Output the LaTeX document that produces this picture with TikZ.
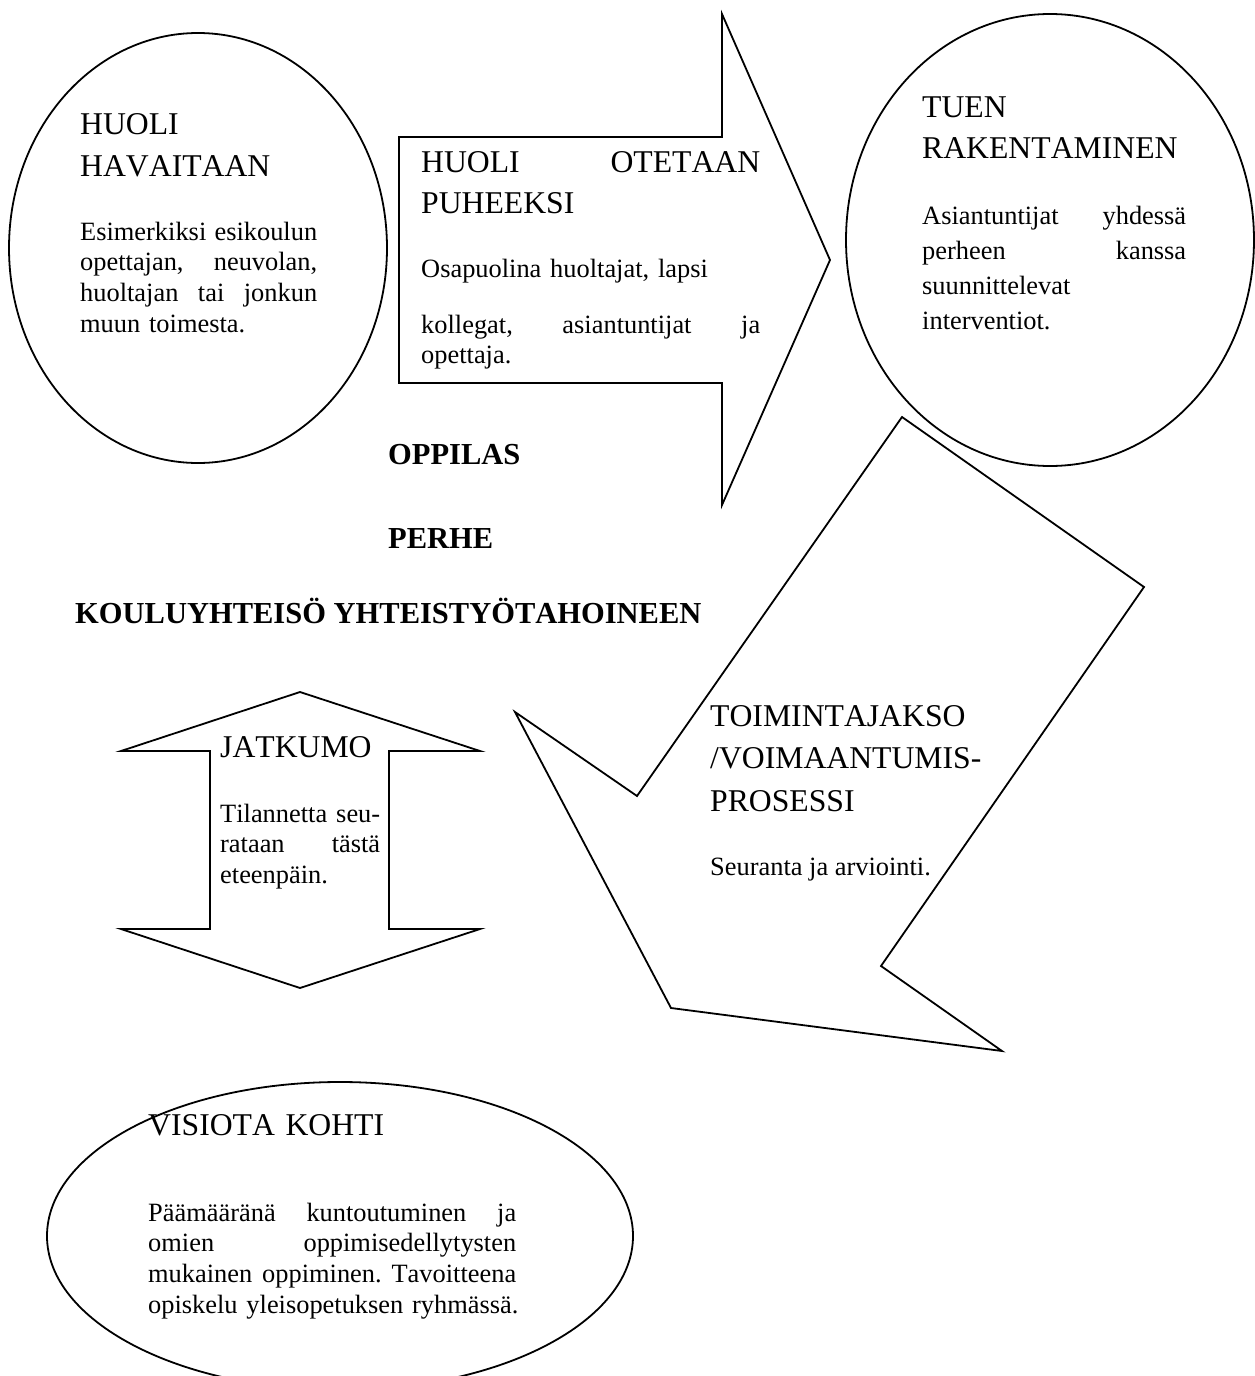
\documentclass[tikz,border=0pt]{standalone}
\usepackage{fontspec}
\setmainfont{Liberation Serif}[Kerning=Off]
\usepackage{tikz}
\tikzset{
  muoto/.style={draw, line width=1.8pt},
  otsikko/.style={font=\fontsize{31.7}{41}\selectfont, anchor=base west, inner sep=0pt, align=left, text width=300pt},
  leipa/.style={font=\fontsize{26.4}{30.7}\selectfont, anchor=base west, inner sep=0pt, align=left},
  lihava/.style={font=\fontsize{30.5}{36}\selectfont\bfseries, anchor=base west, inner sep=0pt}
}

\begin{document}
\begin{tikzpicture}[x=1pt, y=-1pt]
    \useasboundingbox (0,0) rectangle (1254,1376);
    % huoli havaitaan
    \draw[muoto] (198,248) ellipse [x radius=189pt, y radius=215pt];
    \node[otsikko, font=\fontsize{31.7}{42}\selectfont] (havaitaan) at (80,134) {HUOLI\\HAVAITAAN};
    \node[leipa, text width=237pt] (havaitaanteksti) at (80,240) {Esimerkiksi\hfill esikoulun\\opettajan,\hfill neuvolan,\\huoltajan\hfill tai\hfill jonkun\\muun toimesta.};
    % huoli otetaan puheeksi
    \draw[muoto] (399,137) -- (722,137) -- (722,14) -- (830,260) -- (722,505) -- (722,383) -- (399,383) -- cycle;
    \node[otsikko, text width=339pt] (puheeksi) at (421,172) {HUOLI\hfill OTETAAN\\PUHEEKSI};
    \node[leipa, text width=339pt, font=\fontsize{26.4}{30}\selectfont] (puheeksiteksti) at (421,277) {Osapuolina huoltajat, lapsi\\[26pt]kollegat,\hfill asiantuntijat\hfill ja\\opettaja.};
    % tuen rakentaminen
    \draw[muoto] (1050,240) ellipse [x radius=204pt, y radius=226pt];
    \node[otsikko] (rakentaminen) at (922,117) {TUEN\\RAKENTAMINEN};
    \node[leipa, text width=264pt, font=\fontsize{26.4}{35}\selectfont] (rakentaminenteksti) at (922,224) {Asiantuntijat\hfill yhdessä\\perheen\hfill kanssa\\suunnittelevat\\interventiot.};
    % toimintajakso
    \draw[muoto] (902,417) -- (1144,587) -- (881,966) -- (1002,1051) -- (671,1008) -- (515,712) -- (637,796) -- cycle;
    \node[otsikko, font=\fontsize{31.7}{42.5}\selectfont] (toimintajakso) at (710,726) {TOIMINTAJAKSO\\/VOIMAANTUMIS-\\PROSESSI};
    \node[leipa] (toimintajaksoteksti) at (710,875) {Seuranta ja arviointi.};
    % jatkumo
    \draw[muoto] (300,692) -- (480,751) -- (389,751) -- (389,929) -- (480,929) -- (300,988)
      -- (121,929) -- (210,929) -- (210,751) -- (121,751) -- cycle;
    \node[otsikko] (jatkumo) at (220,757) {JATKUMO};
    \node[leipa, text width=160pt] (jatkumoteksti) at (220,822) {Tilannetta\hfill seu-\\rataan\hfill tästä\\eteenpäin.};
    % visiota kohti
    \draw[muoto] (340,1236) ellipse [x radius=293pt, y radius=154pt];
    \node[otsikko] (visio) at (148,1135) {VISIOTA KOHTI};
    \node[leipa, text width=368pt] (visioteksti) at (148,1221) {Päämääränä\hfill kuntoutuminen\hfill ja\\omien\hfill oppimisedellytysten\\mukainen\hfill oppiminen.\hfill Tavoitteena\\\mbox{opiskelu yleisopetuksen ryhmässä.}};
    % keskellä
    \foreach \x/\y/\nimi/\lab in {
      388/464/oppilas/{OPPILAS},
      388/548/perhe/{PERHE},
      75/623/kouluyhteiso/{KOULUYHTEISÖ YHTEISTYÖTAHOINEEN}} {
      \node[lihava] (\nimi) at (\x,\y) {\lab};
    }
  \end{tikzpicture}
\end{document}
